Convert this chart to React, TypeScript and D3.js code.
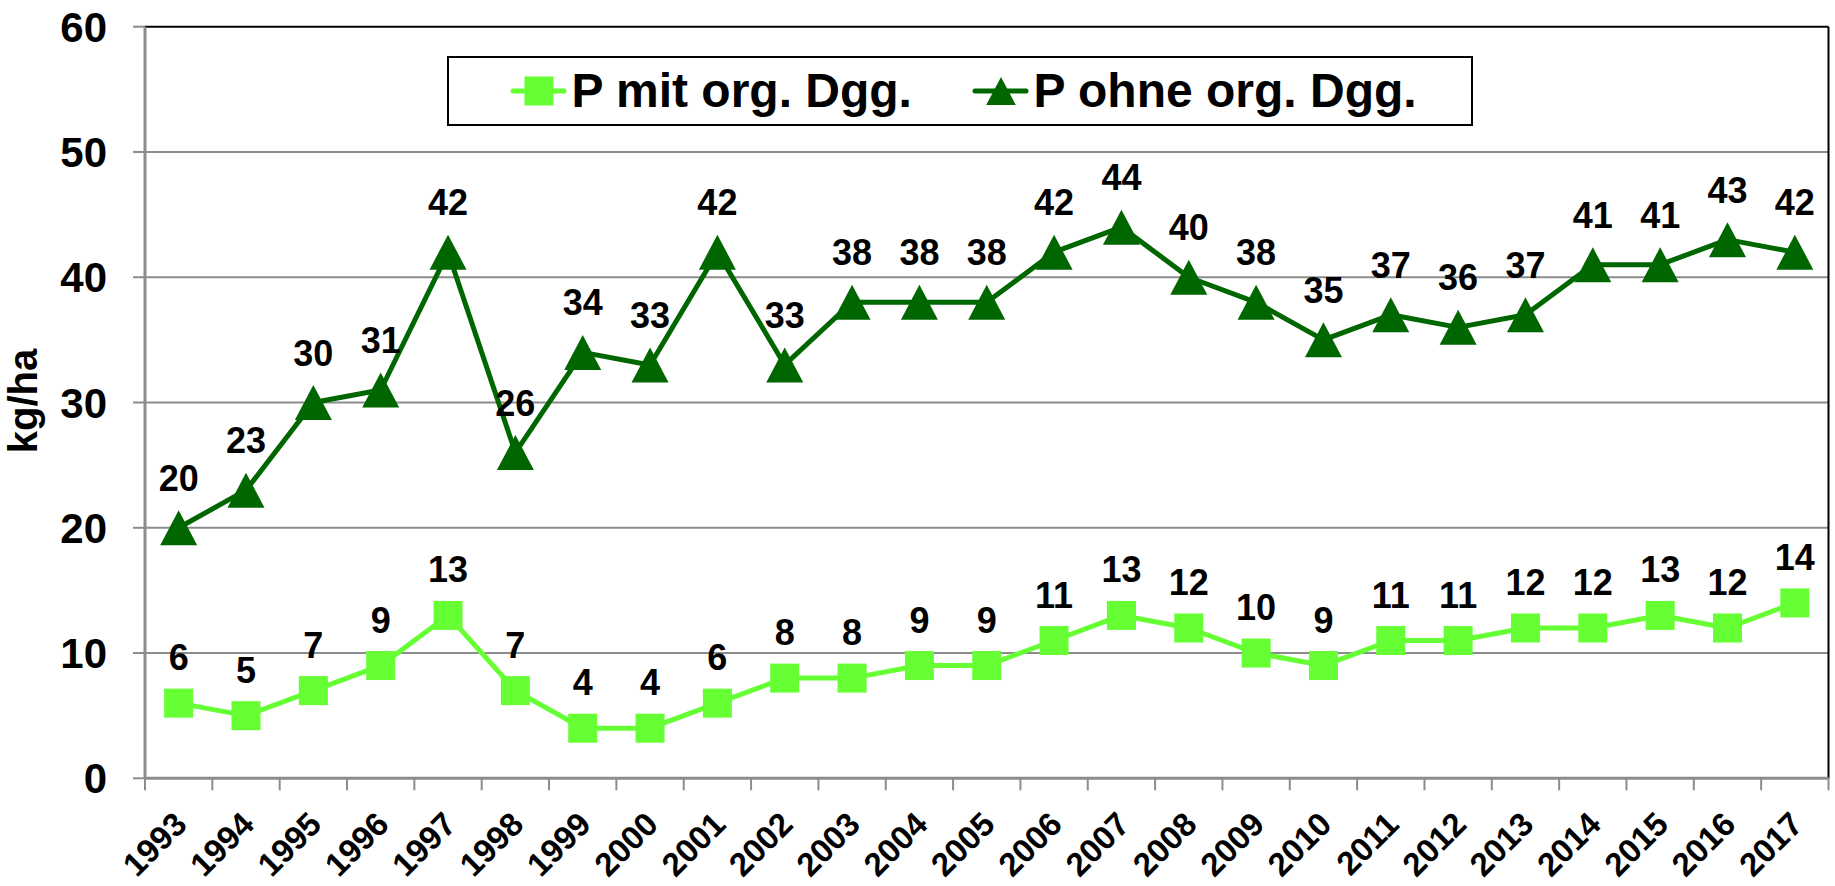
import React from "react";
import * as d3 from "d3";

const years = [
  "1993","1994","1995","1996","1997","1998","1999","2000","2001","2002","2003","2004","2005",
  "2006","2007","2008","2009","2010","2011","2012","2013","2014","2015","2016","2017",
];
const mitOrg = [6,5,7,9,13,7,4,4,6,8,8,9,9,11,13,12,10,9,11,11,12,12,13,12,14];
const ohneOrg = [20,23,30,31,42,26,34,33,42,33,38,38,38,42,44,40,38,35,37,36,37,41,41,43,42];
const yTicks = [0, 10, 20, 30, 40, 50, 60];
const seriesNames = ["P mit org. Dgg.", "P ohne org. Dgg."];

const W = 1835;
const H = 886;
const L = 145, R = 1828.5, T = 26.7, B = 778.3;
const LIGHT = "#66FF33";
const DARK = "#006600";
const GRID = "#8c8c8c";
const FONT = "Arial, 'Liberation Sans', sans-serif";

export default function App() {
  const x = d3.scaleBand<string>().domain(years).range([L, R]).padding(0);
  const y = d3.scaleLinear().domain([0, 60]).range([B, T]);
  const cx = (yr: string) => (x(yr) as number) + x.bandwidth() / 2;

  const line = d3
    .line<number>()
    .x((_, i) => cx(years[i]))
    .y((d) => y(d));

  const tri = (px: number, py: number, s = 1) =>
    `M${px},${py - 17.5 * s}L${px + 18.5 * s},${py + 17.5 * s}L${px - 18.5 * s},${py + 17.5 * s}Z`;

  return (
    <svg
      width={W}
      height={H}
      style={{ position: "absolute", left: 0, top: 0, display: "block", background: "#fff" }}
      fontFamily={FONT}
    >
      <rect x={0} y={0} width={W} height={H} fill="#fff" />
      {/* gridlines */}
      {yTicks.filter((t) => t > 0 && t < 60).map((t) => (
        <line key={"g" + t} x1={L} x2={R} y1={y(t)} y2={y(t)} stroke={GRID} strokeWidth={2} />
      ))}
      {/* border top & right */}
      <line x1={L} x2={R} y1={y(60)} y2={y(60)} stroke="#000" strokeWidth={2} />
      <line x1={R} x2={R} y1={T} y2={B} stroke="#000" strokeWidth={2} />
      {/* y axis */}
      <line x1={L} x2={L} y1={T} y2={B} stroke={GRID} strokeWidth={3} />
      {yTicks.map((t) => (
        <g key={"yt" + t}>
          <line x1={L - 12} x2={L} y1={y(t)} y2={y(t)} stroke={GRID} strokeWidth={2} />
          <text
            x={107}
            y={y(t)}
            dy="0.36em"
            textAnchor="end"
            fontSize={42}
            fontWeight="bold"
            fill="#000"
          >
            {t}
          </text>
        </g>
      ))}
      {/* x axis */}
      <line x1={L} x2={R} y1={B} y2={B} stroke={GRID} strokeWidth={3} />
      {years.map((yr) => (
        <line
          key={"xt" + yr}
          x1={x(yr) as number}
          x2={x(yr) as number}
          y1={B}
          y2={B + 12}
          stroke={GRID}
          strokeWidth={2}
        />
      ))}
      <line x1={R} x2={R} y1={B} y2={B + 12} stroke={GRID} strokeWidth={2} />
      {years.map((yr) => (
        <text
          key={"xl" + yr}
          transform={`translate(${cx(yr) + 10},${B + 48}) rotate(-45)`}
          textAnchor="end"
          fontSize={33}
          fontWeight="bold"
          fill="#000"
        >
          {yr}
        </text>
      ))}
      {/* y title */}
      <text
        transform={`translate(37,401) rotate(-90)`}
        textAnchor="middle"
        fontSize={40}
        fontWeight="bold"
        fill="#000"
      >
        kg/ha
      </text>

      {/* series lines */}
      <path d={line(ohneOrg) as string} fill="none" stroke={DARK} strokeWidth={5} strokeLinejoin="round" />
      <path d={line(mitOrg) as string} fill="none" stroke={LIGHT} strokeWidth={5} strokeLinejoin="round" />

      {/* markers */}
      {ohneOrg.map((v, i) => (
        <path key={"tr" + i} d={tri(cx(years[i]), y(v))} fill={DARK} />
      ))}
      {mitOrg.map((v, i) => (
        <rect key={"sq" + i} x={cx(years[i]) - 14.5} y={y(v) - 14.5} width={29} height={29} fill={LIGHT} />
      ))}

      {/* data labels */}
      {ohneOrg.map((v, i) => (
        <text
          key={"lo" + i}
          x={cx(years[i])}
          y={y(v) - 37}
          textAnchor="middle"
          fontSize={36}
          fontWeight="bold"
          fill="#000"
        >
          {v}
        </text>
      ))}
      {mitOrg.map((v, i) => (
        <text
          key={"lm" + i}
          x={cx(years[i])}
          y={y(v) - 33}
          textAnchor="middle"
          fontSize={36}
          fontWeight="bold"
          fill="#000"
        >
          {v}
        </text>
      ))}

      {/* legend */}
      <rect x={448} y={57} width={1024} height={68} fill="#fff" stroke="#000" strokeWidth={2} />
      <line x1={513} x2={564} y1={91} y2={91} stroke={LIGHT} strokeWidth={5} strokeLinecap="round" />
      <rect x={524.5} y={76.5} width={29} height={29} fill={LIGHT} />
      <text x={571.5} y={106.5} fontSize={48} fontWeight="bold" fill="#000">
        {seriesNames[0]}
      </text>
      <line x1={975} x2={1026} y1={91} y2={91} stroke={DARK} strokeWidth={5} strokeLinecap="round" />
      <path d={tri(1001, 91, 0.8)} fill={DARK} />
      <text x={1033.5} y={106.5} fontSize={48} fontWeight="bold" fill="#000">
        {seriesNames[1]}
      </text>
    </svg>
  );
}
